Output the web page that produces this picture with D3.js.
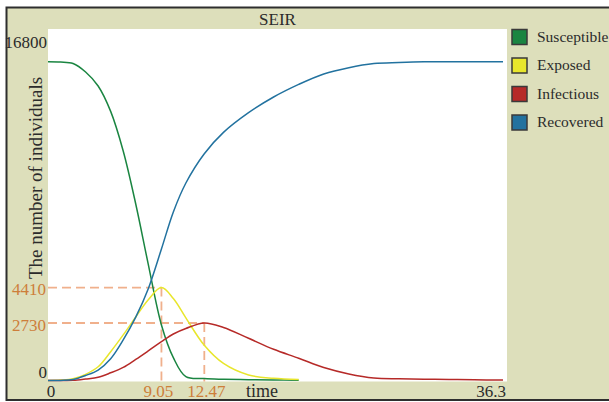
<!DOCTYPE html>
<html>
<head>
<meta charset="utf-8">
<script src="https://cdn.jsdelivr.net/npm/d3@7"></script>
<style>
  body { margin: 0; background: #fff; }
  text { font-family: 'Liberation Serif', 'DejaVu Serif', serif; fill: #2b2b2b; }
</style>
</head>
<body>
<svg id="root" width="609" height="402"></svg>
<script>
// values
const times = [0, 1, 2, 3, 4, 5, 6, 7, 8, 9.05, 10, 11, 12.47, 14, 16, 18, 20, 22, 24, 26, 28, 30, 32, 34, 36.3]
const susceptible = [15130, 15116, 15045, 14641, 13977, 12771, 10892, 8376, 5515, 2634, 1082, 180, 90, 60, 40, 25, 15]
const exposed = [0, 20, 80, 294, 650, 1367, 2164, 3014, 3835, 4410, 3892, 2971, 1671, 807, 261, 104, 50]
const infectious = [0, 5, 10, 71, 152, 365, 622, 1001, 1405, 1841, 2207, 2468, 2730, 2515, 2003, 1481, 1058, 617, 313, 119, 81, 62, 47, 33, 24]
const recovered = [0, 5, 47, 237, 498, 1035, 1927, 3009, 4357, 6241, 7999, 9373, 10764, 11775, 12710, 13455, 14053, 14548, 14846, 15040, 15092, 15126, 15130, 15130, 15130]

const seriesNames = ['Susceptible', 'Exposed', 'Infectious', 'Recovered']
const seriesColors = ['#1a8541', '#e8e62c', '#b62a28', '#22729f']
const seriesValues = [susceptible, exposed, infectious, recovered]

const xTicks = [0, 36.3]
const yTicks = [0, 16800]
// peaks marked with dashed guides: [time, value]
const peaks = [[9.05, 4410], [12.47, 2730]]

let root = d3.select('#root')

let x = d3.scaleLinear().domain([0, 36.3]).range([48, 503])
let y = d3.scaleLinear().domain([0, 16800]).range([380.5, 26.5])

// frame
root.append('rect')
  .attr('x', 6.5).attr('y', 7.5)
  .attr('width', 640).attr('height', 392.5)
  .attr('fill', '#dddfbb')
  .attr('stroke', '#2e2e2e')
  .attr('stroke-width', 2)

// plot area
root.append('rect')
  .attr('x', 48).attr('y', 29)
  .attr('width', 459).attr('height', 352.5)
  .attr('fill', '#fff')

root.append('text')
  .attr('x', 277.5).attr('y', 25)
  .attr('text-anchor', 'middle')
  .attr('font-size', 17)
  .text('SEIR')

// dashed guides to the peaks
let guides = root.append('g')
  .attr('stroke', '#f0b08c')
  .attr('stroke-width', 1.8)
  .attr('stroke-dasharray', '9,5')
  .attr('fill', 'none')

guides.selectAll('.h').data(peaks).enter().append('line')
  .attr('x1', x(0)).attr('x2', (d) => x(d[0]))
  .attr('y1', (d) => y(d[1])).attr('y2', (d) => y(d[1]))

guides.selectAll('.v').data(peaks).enter().append('line')
  .attr('x1', (d) => x(d[0])).attr('x2', (d) => x(d[0]))
  .attr('y1', (d) => y(d[1])).attr('y2', 381.5)

// curves
let line = d3.line()
  .x((d) => x(d[0]))
  .y((d) => y(d[1]))
  .curve(d3.curveCatmullRom)

root.selectAll('.curve')
  .data(seriesValues)
  .enter().append('path')
  .attr('class', 'curve')
  .attr('fill', 'none')
  .attr('stroke', (d, i) => seriesColors[i])
  .attr('stroke-width', 1.5)
  .attr('d', (d) => line(d.map((v, i) => [times[i], v])))

// axis labels
root.selectAll('.ytick').data(yTicks).enter().append('text')
  .attr('x', 47)
  .attr('y', (d) => y(d))
  .attr('dy', (d, i) => i === yTicks.length - 1 ? '1.25em' : '-0.15em')
  .attr('text-anchor', 'end')
  .attr('font-size', 17)
  .text((d) => d)

root.selectAll('.xtick').data(xTicks).enter().append('text')
  .attr('x', (d, i) => i === 0 ? x(d) + 3 : x(d) + 3)
  .attr('y', 397)
  .attr('text-anchor', (d, i) => i === 0 ? 'middle' : 'end')
  .attr('font-size', 17)
  .text((d) => d)

// peak labels
root.selectAll('.peaky').data(peaks).enter().append('text')
  .attr('x', 46)
  .attr('y', (d) => y(d[1]))
  .attr('dy', '0.45em')
  .attr('text-anchor', 'end')
  .attr('font-size', 17)
  .style('fill', '#cd7e3a')
  .text((d) => d[1])

root.selectAll('.peakx').data(peaks).enter().append('text')
  .attr('x', (d, i) => x(d[0]) + (i === 0 ? -3 : 2))
  .attr('y', 397)
  .attr('text-anchor', 'middle')
  .attr('font-size', 17)
  .style('fill', '#cd7e3a')
  .text((d) => d[0].toFixed(2))

root.append('text')
  .attr('x', 262).attr('y', 397)
  .attr('text-anchor', 'middle')
  .attr('font-size', 18)
  .text('time')

root.append('text')
  .attr('transform', 'translate(42,178) rotate(-90)')
  .attr('text-anchor', 'middle')
  .attr('font-size', 19)
  .text('The number of individuals')

// legend
let legend = root.selectAll('.legend')
  .data(seriesNames)
  .enter().append('g')
  .attr('transform', (d, i) => 'translate(512,' + (29.5 + i * 28.5) + ')')

legend.append('rect')
  .attr('width', 15).attr('height', 15)
  .attr('fill', (d, i) => seriesColors[i])
  .attr('stroke', '#3a3a3a')
  .attr('stroke-width', 1.5)

legend.append('text')
  .attr('x', 25).attr('y', 12)
  .attr('font-size', 15.5)
  .text((d) => d)
</script>
</body>
</html>
